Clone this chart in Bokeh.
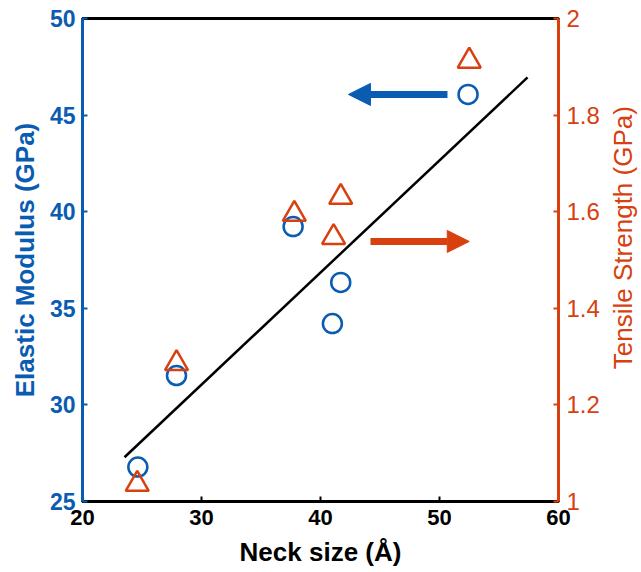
import math
from bokeh.plotting import figure
from bokeh.layouts import row
from bokeh.models import (Range1d, LinearAxis, FixedTicker, CustomJSTickFormatter,
                          Arrow, NormalHead)
from bokeh.core.properties import value
from bokeh.embed import file_html
from bokeh.resources import INLINE

# ---- data ----
neck_modulus = [24.65, 27.9, 41.0, 41.7, 37.7, 52.4]
modulus = [26.78, 31.52, 34.21, 36.34, 39.23, 46.07]
neck_strength = [24.6, 27.9, 37.8, 41.1, 41.7, 52.5]
strength = [1.036, 1.286, 1.595, 1.547, 1.630, 1.912]
fit_x = [23.53, 57.4]
fit_y = [27.29, 46.95]
x_ticks = [20, 30, 40, 50, 60]
left_ticks = [25, 30, 35, 40, 45, 50]
right_ticks = [1, 1.2, 1.4, 1.6, 1.8, 2]
blue_arrow = dict(x_start=50.67, x_end=42.35, y=46.07)
orange_arrow = dict(x_start=44.2, x_end=52.5, y=38.46)
right_label = "Tensile Strength (GPa)"

BLUE = "#0a5cb2"
ORANGE = "#d8400f"
FONT = "Liberation Sans"

p = figure(width=603, height=572, output_backend="svg", toolbar_location=None,
           x_range=Range1d(20, 60), y_range=Range1d(25, 50),
           min_border_left=82, min_border_right=45, min_border_top=18,
           min_border_bottom=71)
p.extra_y_ranges = {"ts": Range1d(1, 2)}
p.grid.visible = False
p.outline_line_color = "black"
p.outline_line_width = 3
p.background_fill_color = "white"
p.border_fill_color = "white"

def style_axis(ax, color, bold=True, size="22px"):
    ax.axis_line_color = color
    ax.axis_line_width = 3
    ax.major_tick_line_color = color
    ax.major_tick_line_width = 2
    ax.major_tick_in = 5
    ax.major_tick_out = 0
    ax.minor_tick_line_color = None
    ax.major_label_text_color = color
    ax.major_label_text_font = FONT
    ax.major_label_text_font_size = size
    ax.major_label_text_font_style = "bold" if bold else "normal"
    ax.axis_label_text_color = color
    ax.axis_label_text_font = FONT
    ax.axis_label_text_font_size = "26px"
    ax.axis_label_text_font_style = "bold" if bold else "normal"
    ax.major_label_standoff = 8

# bottom axis
xa = p.xaxis[0]
xa.ticker = FixedTicker(ticks=x_ticks)
xa.axis_label = "Neck size (Å)"
style_axis(xa, "black")
xa.axis_label_standoff = 9

# left axis
ya = p.yaxis[0]
ya.ticker = FixedTicker(ticks=left_ticks)
ya.axis_label = "Elastic Modulus (GPa)"
style_axis(ya, BLUE, size="23px")
ya.major_label_standoff = 7
ya.axis_label_standoff = 7

# right axis
ra = LinearAxis(y_range_name="ts")
ra.ticker = FixedTicker(ticks=right_ticks)
ra.formatter = CustomJSTickFormatter(code="return tick.toFixed(1).replace(/\\.0$/, '');")
style_axis(ra, ORANGE, bold=False, size="24px")
p.add_layout(ra, "right")

# fit line
p.line(fit_x, fit_y, line_color="black", line_width=2.5)

# markers
p.scatter(neck_modulus, modulus, marker="circle", size=19, fill_color=None,
          line_color=BLUE, line_width=2.5)
p.scatter(neck_strength, strength, marker="triangle", size=23, fill_color=None,
          line_color=ORANGE, line_width=2.5, y_range_name="ts")

# arrows
p.add_layout(Arrow(end=NormalHead(size=22, fill_color=BLUE, line_color=BLUE),
                   x_start=blue_arrow["x_start"], y_start=blue_arrow["y"],
                   x_end=blue_arrow["x_end"], y_end=blue_arrow["y"],
                   line_color=BLUE, line_width=7))
p.add_layout(Arrow(end=NormalHead(size=22, fill_color=ORANGE, line_color=ORANGE),
                   x_start=orange_arrow["x_start"], y_start=orange_arrow["y"],
                   x_end=orange_arrow["x_end"], y_end=orange_arrow["y"],
                   line_color=ORANGE, line_width=7))

# side strip holding the right axis title (reads bottom-to-top)
p2 = figure(width=38, height=572, output_backend="svg", toolbar_location=None,
            x_range=Range1d(0, 38), y_range=Range1d(0, 572),
            x_axis_type=None, y_axis_type=None,
            min_border_left=0, min_border_right=0, min_border_top=0, min_border_bottom=0)
p2.grid.visible = False
p2.outline_line_color = None
p2.background_fill_color = "white"
p2.border_fill_color = "white"
p2.text(x=[19], y=[572 - 259.5], text=[right_label], angle=math.pi / 2,
        text_align="center", text_baseline="middle", text_color=ORANGE,
        text_font=value(FONT), text_font_size="26px")

layout = row(p, p2, spacing=0)
open("out.html", "w").write(file_html(layout, INLINE))
